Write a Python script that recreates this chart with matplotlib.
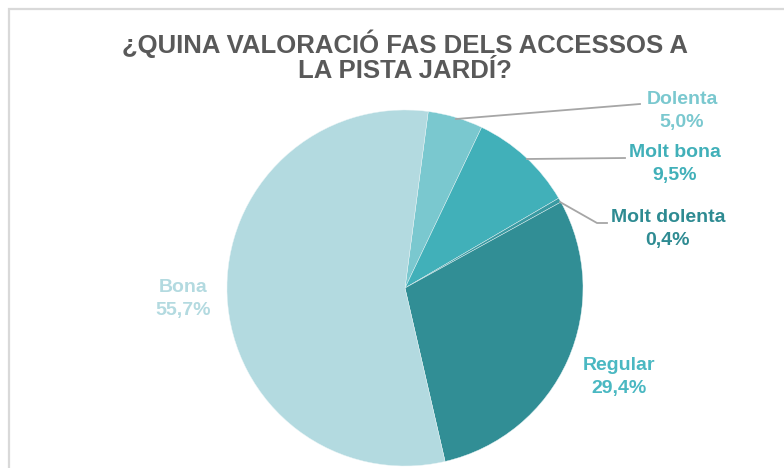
import matplotlib
matplotlib.use("Agg")
import matplotlib.pyplot as plt
from matplotlib.patches import Rectangle

plt.rcParams['font.family'] = ['Liberation Sans', 'DejaVu Sans']

# ---- data ----
categories = ["Dolenta", "Molt bona", "Molt dolenta", "Regular", "Bona"]
values = [5.0, 9.5, 0.4, 29.4, 55.7]
slice_colors = ["#7AC8CF", "#41B0B9", "#3A9AA2", "#318E95", "#B3DAE0"]
label_colors = ["#7AC8CF", "#41B0B9", "#2E8B92", "#4AB8C2", "#B3DAE0"]
title = "¿QUINA VALORACIÓ FAS DELS ACCESSOS A\nLA PISTA JARDÍ?"

W, H = 784, 468
fig = plt.figure(figsize=(W / 100, H / 100), dpi=100)
ax = fig.add_axes([0, 0, 1, 1])

def Y(y):
    return H - y

cx, cy, r = 405, 288, 178
wedges, _ = ax.pie(values, colors=slice_colors, startangle=82.5,
                   counterclock=False, center=(cx, Y(cy)), radius=r,
                   wedgeprops=dict(linewidth=0.3, edgecolor="#E8F4F6"),
                   frame=True)
ax.set_xlim(0, W)
ax.set_ylim(0, H)
ax.set_aspect('equal')
ax.axis('off')

# chart border
ax.add_patch(Rectangle((9, -10), W + 20, Y(9) + 10, fill=False,
                       edgecolor="#D9D9D9", linewidth=1.6))

# title
ax.text(405, Y(56), title, ha='center', va='center', fontsize=18.5,
        fontweight='bold', color="#595959", linespacing=1.05)

# labels
label_pos = {
    "Dolenta": (682, 111),
    "Molt bona": (675, 164),
    "Molt dolenta": (668, 229),
    "Regular": (619, 377),
    "Bona": (183, 299),
}
for cat, val, col in zip(categories, values, label_colors):
    x, y = label_pos[cat]
    ax.text(x, Y(y), f"{cat}\n{val:.1f}%".replace('.', ','), ha='center',
            va='center', fontsize=14, fontweight='bold', color=col,
            linespacing=1.4)

# leader lines
lc = "#A6A6A6"
ax.plot([456, 640], [Y(119), Y(104)], color=lc, lw=1.3)
ax.plot([527, 625], [Y(159), Y(158)], color=lc, lw=1.3)
ax.plot([560, 597, 607], [Y(202), Y(223), Y(223)], color=lc, lw=1.3)

fig.savefig("out.png", dpi=100)
